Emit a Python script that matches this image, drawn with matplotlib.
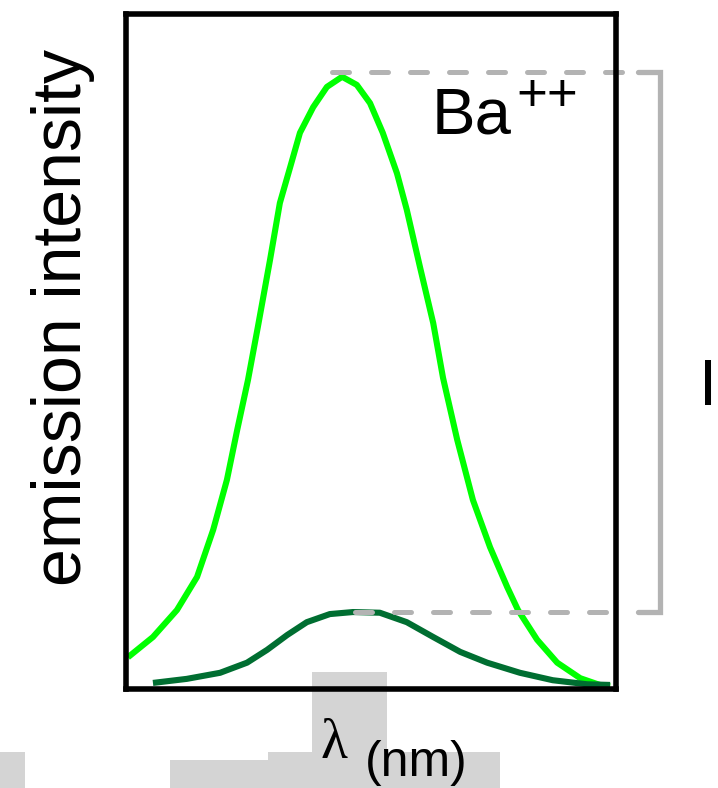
import matplotlib
matplotlib.use("Agg")
import matplotlib.pyplot as plt
from matplotlib.patches import Rectangle

plt.rcParams['font.family'] = ['Liberation Sans', 'DejaVu Sans']

# wavelength (arbitrary, 0..1 across the box) and intensity (0..1)
lam_ba = [0.004, 0.055, 0.104, 0.145, 0.178, 0.206, 0.227, 0.249, 0.269, 0.294,
          0.314, 0.335, 0.355, 0.382, 0.410, 0.441, 0.471, 0.498, 0.524, 0.553,
          0.573, 0.600, 0.627, 0.647, 0.676, 0.708, 0.743, 0.778, 0.800, 0.839,
          0.880, 0.927, 0.967, 0.988]
int_ba = [0.047, 0.077, 0.117, 0.166, 0.236, 0.310, 0.384, 0.458, 0.536, 0.636,
          0.720, 0.773, 0.824, 0.862, 0.892, 0.907, 0.895, 0.868, 0.824, 0.764,
          0.710, 0.625, 0.542, 0.461, 0.369, 0.280, 0.210, 0.151, 0.117, 0.073,
          0.039, 0.016, 0.006, 0.004]

lam_free = [0.055, 0.124, 0.192, 0.247, 0.288, 0.329, 0.369, 0.416, 0.463, 0.518,
            0.573, 0.627, 0.682, 0.737, 0.804, 0.871, 0.941, 0.988]
int_free = [0.009, 0.015, 0.024, 0.039, 0.058, 0.080, 0.099, 0.111, 0.114, 0.113,
            0.099, 0.077, 0.055, 0.039, 0.024, 0.013, 0.007, 0.006]

W, H = 718, 788
fig = plt.figure(figsize=(W / 100, H / 100), dpi=100)

def fx(px):
    return px / W

def fy(py):
    return 1 - py / H

# grey blocky background patches at the bottom
grey = '#d4d4d4'
for x0, y0, x1, y1 in [(312, 672, 387, 760), (268, 752, 500, 788),
                       (170, 760, 268, 788), (0, 752, 25, 788)]:
    fig.patches.append(Rectangle((fx(x0), fy(y1)), fx(x1) - fx(x0), fy(y0) - fy(y1),
                                 transform=fig.transFigure, color=grey, zorder=-5, lw=0))

ax = fig.add_axes([fx(126), fy(689), fx(616) - fx(126), fy(14) - fy(689)])
ax.set_facecolor('none')
ax.set_xlim(0, 1)
ax.set_ylim(0, 1)
ax.set_xticks([])
ax.set_yticks([])
for s in ax.spines.values():
    s.set_linewidth(4)
    s.set_color('black')
    s.set_zorder(5)

ax.plot(lam_ba, int_ba, color='#00ff00', lw=4.4, solid_capstyle='butt',
        solid_joinstyle='round', zorder=3)
ax.plot(lam_free, int_free, color='#006e31', lw=4.4, solid_capstyle='butt',
        solid_joinstyle='round', zorder=3)

top = max(int_ba) + 0.007
bot = max(int_free)
gcol = '#b3b3b3'
dash = dict(color=gcol, lw=3.6, ls=(0, (3.4, 4.4)), dash_capstyle='round',
            clip_on=False, zorder=4)
ax.plot([0.42, 1.012], [top, top], **dash)
ax.plot([0.467, 1.012], [bot, bot], **dash)
ax.plot([1.045, 1.09, 1.09, 1.045], [top, top, bot, bot], color=gcol, lw=3.8,
        solid_capstyle='round', solid_joinstyle='miter', clip_on=False, zorder=4)

fig.text(fx(63), fy(318), 'emission intensity', rotation=90, fontsize=49,
         ha='center', va='center')
fig.text(fx(432), fy(133), 'Ba', fontsize=47, ha='left', va='baseline')
fig.text(fx(516), fy(111), '++', fontsize=38, ha='left', va='baseline')
fig.text(fx(320), fy(758), 'λ', fontsize=40, family='Liberation Serif',
         ha='left', va='baseline')
fig.text(fx(365), fy(776), '(nm)', fontsize=36, ha='left', va='baseline')
fig.text(fx(699), fy(405), 'I', fontsize=47, ha='left', va='baseline')

fig.savefig('out.png', dpi=100)
